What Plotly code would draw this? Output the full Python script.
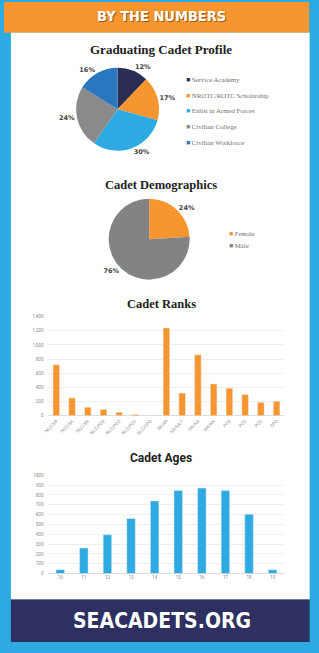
import plotly.graph_objects as go

W, H = 319, 653
def px(x): return x / W
def py(y): return 1 - y / H

# ---------------- data ----------------
profile_labels = ["Service Academy", "NROTC/ROTC Scholarship", "Enlist in Armed Forces",
                  "Civilian College", "Civilian Workforce"]
profile_values = [12, 17, 30, 24, 16]
profile_colors = ["#2B2D54", "#F7962F", "#2DAAE1", "#8A8A8A", "#2B77BF"]

demo_labels = ["Female", "Male"]
demo_values = [24, 76]
demo_colors = ["#F7962F", "#838383"]

rank_labels = ["NLC/SR", "NLC/SA", "NLC/SN", "NLC/PO3", "NLC/PO2", "NLC/PO1", "NLC/CPO",
               "SR/AR", "SA/SA-T", "SA/AA", "SN/AN", "PO3", "PO2", "PO1", "CPO"]
rank_values = [720, 250, 120, 90, 50, 20, 3, 1240, 320, 860, 450, 390, 300, 190, 205]

age_labels = ["10", "11", "12", "13", "14", "15", "16", "17", "18", "19"]
age_values = [40, 260, 395, 560, 740, 845, 870, 845, 605, 40]

ORANGE = "#F7962F"
BLUE = "#2DAAE1"
NAVY = "#2E3061"

fig = go.Figure()

# ---------------- pies ----------------
fig.add_trace(go.Pie(
    labels=profile_labels, values=profile_values, sort=False, direction="clockwise",
    marker=dict(colors=profile_colors, line=dict(width=0)),
    texttemplate="<b>%{value}%</b>", textposition="outside",
    textfont=dict(family="DejaVu Sans", size=6.5, color="#444"),
    domain=dict(x=[px(73), px(157)], y=[py(150), py(66)]),
    showlegend=False, hoverinfo="label+percent",
))
fig.add_trace(go.Pie(
    labels=demo_labels, values=demo_values, sort=False, direction="clockwise",
    marker=dict(colors=demo_colors, line=dict(width=0)),
    texttemplate="<b>%{value}%</b>", textposition="outside",
    textfont=dict(family="DejaVu Sans", size=6.5, color="#444"),
    domain=dict(x=[px(106), px(188)], y=[py(280), py(198)]),
    showlegend=False, hoverinfo="label+percent",
))

# ---------------- bars ----------------
fig.add_trace(go.Bar(x=rank_labels, y=rank_values, marker_color=ORANGE,
                     xaxis="x", yaxis="y", showlegend=False, width=0.42))
fig.add_trace(go.Bar(x=age_labels, y=age_values, marker_color=BLUE,
                     xaxis="x2", yaxis="y2", showlegend=False, width=0.36))

tickf = dict(family="Roboto", size=4.5, color="#8A8A8A")

fig.update_layout(
    width=W, height=H, margin=dict(l=0, r=0, t=0, b=0),
    paper_bgcolor=BLUE, plot_bgcolor="rgba(0,0,0,0)",
    xaxis=dict(domain=[px(45), px(284)], anchor="y", tickangle=-45, tickfont=tickf,
               showgrid=False, showline=False, ticks="", ticklabelstandoff=1),
    yaxis=dict(domain=[py(417), py(317)], anchor="x", range=[0, 1400], dtick=200,
               tickformat=",", tickfont=tickf, gridcolor="#EEEEEE", gridwidth=1,
               zeroline=True, zerolinecolor="#DDDDDD", zerolinewidth=1, ticks="",
               ticklabelstandoff=4),
    xaxis2=dict(domain=[px(45), px(284)], anchor="y2", tickfont=tickf,
                showgrid=False, showline=False, ticks=""),
    yaxis2=dict(domain=[py(576), py(477)], anchor="x2", range=[0, 1000], dtick=100,
                tickformat="d", tickfont=tickf, gridcolor="#EEEEEE", gridwidth=1,
                zeroline=True, zerolinecolor="#DDDDDD", zerolinewidth=1, ticks="",
                ticklabelstandoff=4),
    bargap=0.6,
)

# ---------------- background panels (decoration) ----------------
fig.update_layout(shapes=[
    dict(type="rect", xref="paper", yref="paper", x0=px(0), x1=px(309), y0=py(31), y1=py(0),
         fillcolor=ORANGE, line_width=0, layer="below"),
    dict(type="rect", xref="paper", yref="paper", x0=px(7), x1=px(309.5), y0=py(602), y1=py(31),
         fillcolor="white", line_width=0, layer="below"),
    dict(type="rect", xref="paper", yref="paper", x0=px(7), x1=px(309.5), y0=py(645), y1=py(602),
         fillcolor=NAVY, line_width=0, layer="below"),
])

# ---------------- text ----------------
def ann(text, x, y, font, xanchor="center"):
    return dict(text=text, x=px(x), y=py(y), xref="paper", yref="paper",
                xanchor=xanchor, yanchor="middle", showarrow=False, font=font)

serif_title = dict(family="Liberation Serif", size=13, color="#222222")
legf = dict(family="Liberation Serif", size=6.8, color="#707070")

anns = [
    ann("BY THE NUMBERS", 159, 14.5,
        dict(family="DejaVu Sans Condensed", size=14.5, color="white", weight="bold",
             shadow="1px 1px 0px #9A5A1A")),
    ann("<b>Graduating Cadet Profile</b>", 159, 48, serif_title),
    ann("<b>Cadet Demographics</b>", 159, 184.5, dict(serif_title, size=12.5)),
    ann("<b>Cadet Ranks</b>", 159, 304, dict(serif_title, size=12.5)),
    ann("<b>Cadet Ages</b>", 159, 460, dict(family="Roboto", size=12, color="#222222")),
    ann("SEACADETS.ORG", 159.5, 624,
        dict(family="DejaVu Sans Condensed", size=21, color="white", weight="bold")),
]

# legends (built from the category lists)
for i, (lab, col) in enumerate(zip(profile_labels, profile_colors)):
    anns.append(ann(f'<span style="color:{col}">■</span> {lab}', 182, 78.3 + i * 15.7,
                    legf, xanchor="left"))
for i, (lab, col) in enumerate(zip(demo_labels, demo_colors)):
    anns.append(ann(f'<span style="color:{col}">■</span> {lab}', 225.5, 233.3 + i * 12.5,
                    legf, xanchor="left"))

fig.update_layout(annotations=anns)

fig.write_html("out.html")
